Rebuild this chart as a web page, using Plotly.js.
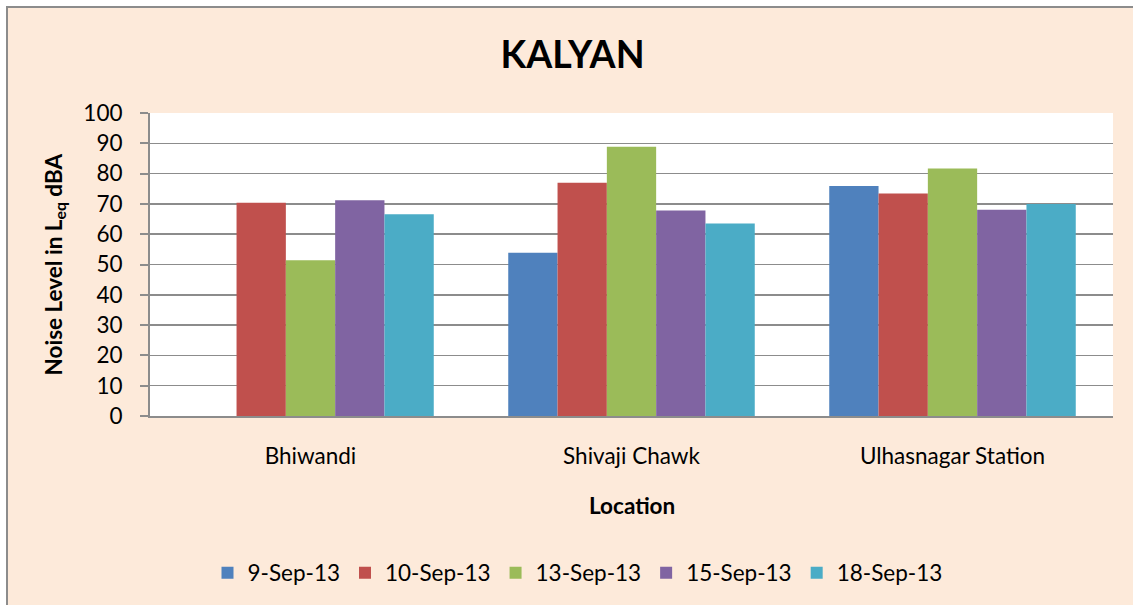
<!DOCTYPE html>
<html>
<head>
<meta charset="utf-8">
<script src="https://cdn.plot.ly/plotly-3.0.1.min.js"></script>
<style>
  html, body { margin: 0; padding: 0; background: #ffffff; overflow: hidden; width: 1133px; height: 605px; }
  #frame { position: absolute; left: 6px; top: 6px; width: 1200px; height: 700px; background: #FDEADA; border: 2px solid #8c8c8c; }
  #chart { position: absolute; left: 0; top: 0; width: 1133px; height: 605px; }
</style>
</head>
<body>
<div id="frame"></div>
<div id="chart"></div>
<script>
const locations = ["Bhiwandi", "Shivaji Chawk", "Ulhasnagar Station"];
const seriesNames = ["9-Sep-13", "10-Sep-13", "13-Sep-13", "15-Sep-13", "18-Sep-13"];
const sep09 = [null, 53.9, 75.9];
const sep10 = [70.4, 77.0, 73.4];
const sep13 = [51.4, 88.9, 81.7];
const sep15 = [71.2, 67.8, 68.1];
const sep18 = [66.6, 63.5, 70.0];
const colors = ["#4F81BD", "#C0504D", "#9BBB59", "#8064A2", "#4BACC6"];
const yTicks = [0, 10, 20, 30, 40, 50, 60, 70, 80, 90, 100];

const FONT = "Lato, 'Open Sans', sans-serif";
const FS = 22.5;
const values = [sep09, sep10, sep13, sep15, sep18];

const traces = values.map((v, i) => ({
  type: "bar",
  name: seriesNames[i],
  x: locations,
  y: v,
  marker: { color: colors[i], line: { width: 0 } },
  hoverinfo: "x+y+name"
}));

const layout = {
  width: 1133,
  height: 605,
  paper_bgcolor: "rgba(0,0,0,0)",
  plot_bgcolor: "#ffffff",
  margin: { l: 150, r: 20, t: 113, b: 189, pad: 0 },
  barmode: "group",
  bargap: 0.232,
  bargroupgap: 0,
  font: { family: FONT, size: FS, color: "#000000" },
  title: {
    text: "<b>KALYAN</b>",
    font: { family: FONT, size: 37.5, color: "#000000" },
    xref: "container", x: 572.5 / 1133, xanchor: "center",
    yref: "container", y: 1 - 54.5 / 605, yanchor: "middle"
  },
  xaxis: {
    type: "category",
    showgrid: false,
    showline: true,
    linecolor: "#8c8c8c",
    linewidth: 2,
    ticks: "",
    ticklabelstandoff: 19,
    tickfont: { family: FONT, size: FS, color: "#000000" },
    fixedrange: true
  },
  yaxis: {
    range: [0, 100],
    tickvals: yTicks,
    ticktext: yTicks.map(String),
    showgrid: true,
    gridcolor: "#8c8c8c",
    gridwidth: 1.5,
    showline: true,
    linecolor: "#8c8c8c",
    linewidth: 2,
    ticks: "outside",
    ticklen: 8,
    tickwidth: 2,
    tickcolor: "#8c8c8c",
    ticklabelstandoff: 13,
    zeroline: false,
    tickfont: { family: FONT, size: FS, color: "#000000" },
    fixedrange: true
  },
  legend: {
    orientation: "h",
    xref: "container", yref: "container",
    x: 577.5 / 1133, xanchor: "center",
    y: 1 - 573 / 605, yanchor: "middle",
    font: { family: FONT, size: FS, color: "#000000" },
    bgcolor: "rgba(0,0,0,0)",
    itemclick: false, itemdoubleclick: false,
    traceorder: "normal"
  },
  annotations: [
    {
      text: "<b>Noise Level in L<sub>eq</sub> dBA</b>",
      xref: "paper", yref: "paper",
      x: 0, y: 0.5, xanchor: "center", yanchor: "middle",
      xshift: -96, textangle: -90, showarrow: false,
      font: { family: FONT, size: FS, color: "#000000" }
    },
    {
      text: "<b>Location</b>",
      xref: "paper", yref: "paper",
      x: 0.5, y: 0, xanchor: "center", yanchor: "middle",
      yshift: -89, showarrow: false,
      font: { family: FONT, size: FS, color: "#000000" }
    }
  ]
};

Plotly.newPlot("chart", traces, layout, { displayModeBar: false, staticPlot: true });
</script>
</body>
</html>
